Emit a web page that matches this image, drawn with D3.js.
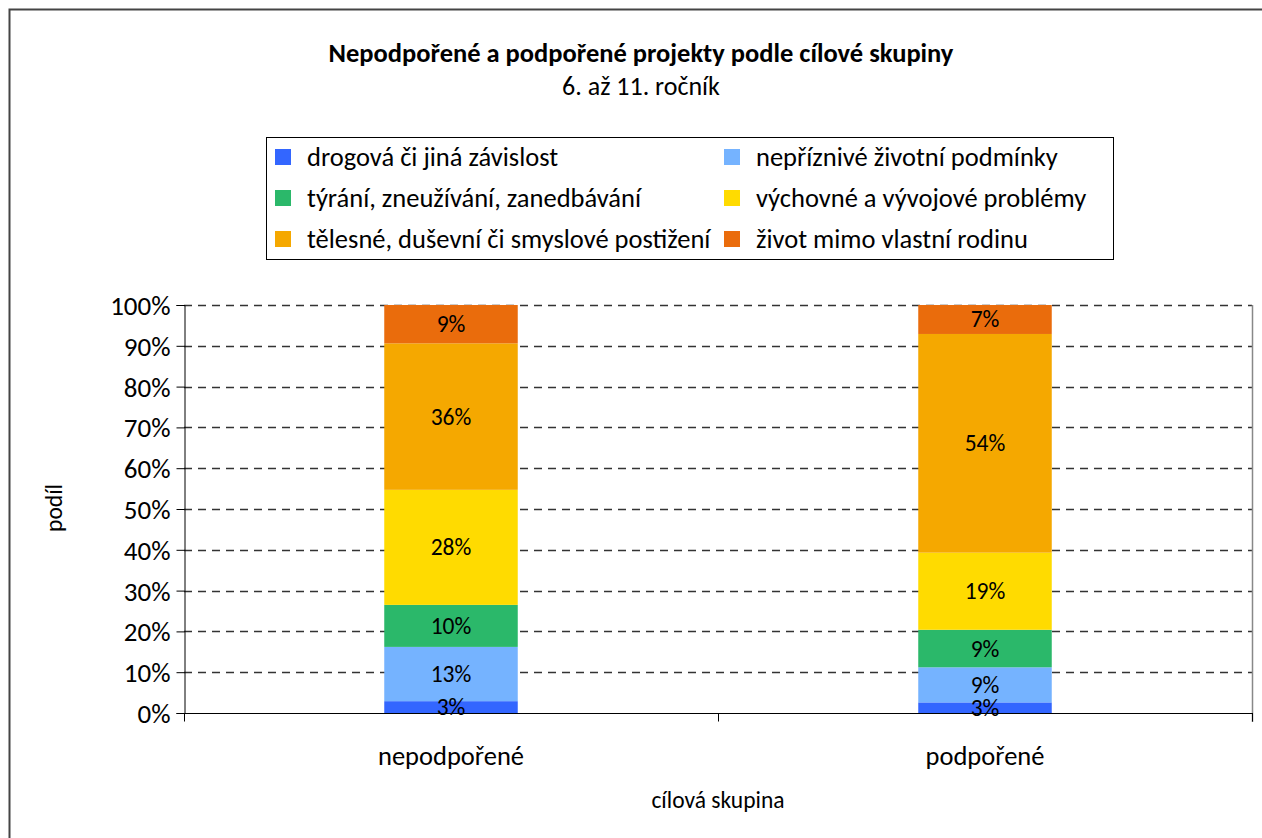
<!DOCTYPE html>
<html>
<head>
<meta charset="utf-8">
<script src="https://cdn.jsdelivr.net/npm/d3@7"></script>
<style>
  html, body { margin: 0; background: #fff; overflow: hidden; }
  svg { display: block; }
  svg text { font-family: Carlito, Calibri, Lato, "Open Sans", sans-serif; fill: #000; }
</style>
</head>
<body>
<div id="chart"></div>
<script>
const categories = ['nepodpořené', 'podpořené'];
const seriesNames = [
  'drogová či jiná závislost',
  'nepříznivé životní podmínky',
  'týrání, zneužívání, zanedbávání',
  'výchovné a vývojové problémy',
  'tělesné, duševní či smyslové postižení',
  'život mimo vlastní rodinu'
];
const seriesColors = ['#3366FF', '#75B3FF', '#2BB86A', '#FFDB00', '#F5A800', '#EA6C0C'];
// shares in %, per series, [nepodpořené, podpořené]
const drogova = [2.9, 2.6];
const nepriznive = [13.3, 8.6];
const tyrani = [10.3, 9.2];
const vychovne = [28.2, 18.9];
const telesne = [35.9, 53.6];
const zivot = [9.4, 7.1];
const yTicks = [0, 10, 20, 30, 40, 50, 60, 70, 80, 90, 100];

const seriesValues = [drogova, nepriznive, tyrani, vychovne, telesne, zivot];

const W = 1262, H = 838;
const plot = {left: 184, right: 1252, top: 305, bottom: 713};

const svg = d3.select('#chart').append('svg')
  .attr('width', W).attr('height', H);

// outer frame (only left and top edges are visible)
svg.append('rect')
  .attr('x', 9.5).attr('y', 9.5).attr('width', W + 20).attr('height', H + 20)
  .attr('fill', 'none').attr('stroke', '#444').attr('stroke-width', 2);

svg.append('text').attr('x', 641).attr('y', 62).attr('text-anchor', 'middle')
  .style('font-size', '26.5px').style('font-weight', 'bold')
  .text('Nepodpořené a podpořené projekty podle cílové skupiny');
svg.append('text').attr('x', 641).attr('y', 95).attr('text-anchor', 'middle')
  .style('font-size', '26px')
  .text('6. až 11. ročník');

// legend
const lg = svg.append('g');
lg.append('rect').attr('x', 266.5).attr('y', 137.5).attr('width', 847).attr('height', 122)
  .attr('fill', '#fff').attr('stroke', '#000').attr('stroke-width', 1);
seriesNames.forEach((name, i) => {
  const col = i % 2, row = Math.floor(i / 2);
  const x0 = col === 0 ? 275 : 724;
  const yc = 157 + row * 41;
  lg.append('rect').attr('x', x0).attr('y', yc - 8).attr('width', 16).attr('height', 16)
    .attr('fill', seriesColors[i]);
  lg.append('text').attr('x', x0 + 32).attr('y', yc + 9)
    .style('font-size', '26.5px').text(name);
});

const x = d3.scaleBand().domain(categories).range([plot.left, plot.right]);
const y = d3.scaleLinear().domain([0, 100]).range([plot.bottom, plot.top]);
const barW = x.bandwidth() * 0.25;

// gridlines
svg.append('g').selectAll('line').data(yTicks.filter(d => d > 0)).enter().append('line')
  .attr('x1', plot.left).attr('x2', plot.right)
  .attr('y1', d => Math.round(y(d)) + 0.5).attr('y2', d => Math.round(y(d)) + 0.5)
  .attr('stroke', '#333').attr('stroke-width', 1.3).attr('stroke-dasharray', '8,6');

// right frame of plot
svg.append('line').attr('x1', plot.right + 0.5).attr('x2', plot.right + 0.5)
  .attr('y1', plot.top).attr('y2', plot.bottom + 9)
  .attr('stroke', '#888').attr('stroke-width', 1.5);

// stacked bars
const stackData = categories.map((c, ci) => {
  const row = {cat: c};
  seriesNames.forEach((s, si) => { row[s] = seriesValues[si][ci]; });
  return row;
});
const stacked = d3.stack().keys(seriesNames)(stackData);

const layers = svg.append('g').selectAll('g').data(stacked).enter().append('g')
  .attr('fill', (d, i) => seriesColors[i]);
layers.selectAll('rect').data(d => d).enter().append('rect')
  .attr('x', d => x(d.data.cat) + (x.bandwidth() - barW) / 2)
  .attr('width', barW)
  .attr('y', d => y(d[1]))
  .attr('height', d => y(d[0]) - y(d[1]));

// value labels
const labels = svg.append('g');
stacked.forEach(layer => {
  layer.forEach(d => {
    const v = d[1] - d[0];
    labels.append('text')
      .attr('x', x(d.data.cat) + x.bandwidth() / 2)
      .attr('y', (y(d[0]) + y(d[1])) / 2 + 8)
      .attr('text-anchor', 'middle')
      .style('font-size', '23.5px')
      .text(Math.round(v) + '%');
  });
});

// axes
const yAxis = svg.append('g').attr('transform', `translate(${plot.left + 0.5},0)`)
  .call(d3.axisLeft(y).tickValues(yTicks).tickSize(8).tickPadding(6).tickFormat(d => d + '%'));
yAxis.select('.domain').attr('stroke', '#000');
yAxis.selectAll('.tick line').attr('stroke', '#000');
yAxis.selectAll('text').style('font-size', '27px').attr('dy', '0.35em');

const xAxis = svg.append('g').attr('transform', `translate(0,${plot.bottom + 0.5})`);
xAxis.append('line').attr('x1', plot.left).attr('x2', plot.right + 1)
  .attr('stroke', '#000');
const bounds = [plot.left, ...categories.map(c => x(c) + x.bandwidth())];
xAxis.selectAll('line.tk').data(bounds).enter().append('line')
  .attr('x1', d => Math.round(d) + 0.5).attr('x2', d => Math.round(d) + 0.5)
  .attr('y1', 0).attr('y2', 8).attr('stroke', '#000');
xAxis.selectAll('text').data(categories).enter().append('text')
  .attr('x', d => x(d) + x.bandwidth() / 2).attr('y', 51)
  .attr('text-anchor', 'middle').style('font-size', '26.5px').text(d => d);

svg.append('text').attr('x', 718).attr('y', 808).attr('text-anchor', 'middle')
  .style('font-size', '23.5px').text('cílová skupina');
svg.append('text').attr('transform', 'translate(62,508) rotate(-90)')
  .attr('text-anchor', 'middle').style('font-size', '23.5px').text('podíl');
</script>
</body>
</html>
